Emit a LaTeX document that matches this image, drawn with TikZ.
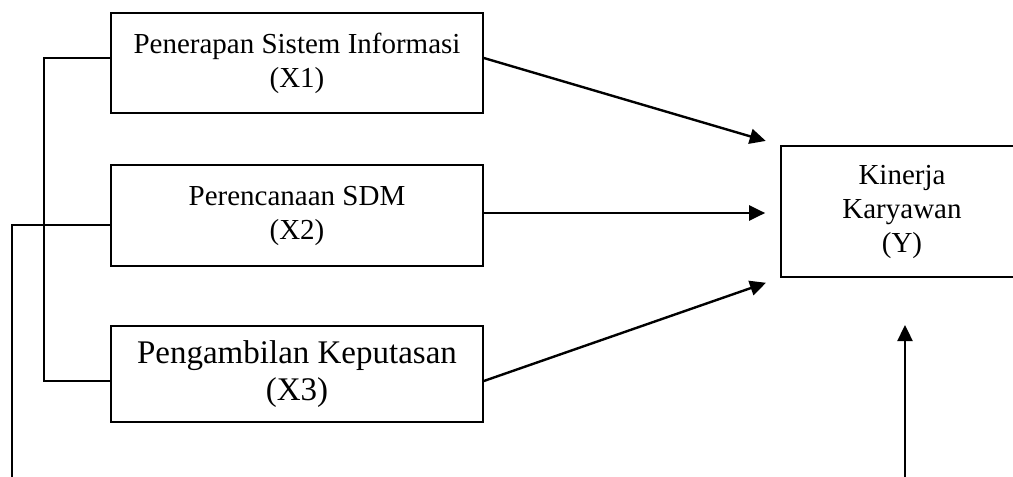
\documentclass[tikz,border=0pt]{standalone}
\usepackage{fontspec}
\setmainfont{Liberation Serif}
\usetikzlibrary{arrows.meta}

\tikzset{
  varbox/.style={draw, line width=1.7pt, minimum width=372pt, align=center, inner sep=0pt,
    font=\fontsize{29pt}{34pt}\selectfont},
  arr/.style={-{Triangle[length=16pt, width=15pt]}, line width=2.4pt}
}

\begin{document}
\begin{tikzpicture}[x=1pt, y=-1pt]
    \useasboundingbox (0, 0) rectangle (1013, 477);
    % X1
    \node [varbox, minimum height=100pt] (X1) at (297, 63) {Penerapan Sistem Informasi\\(X1)};
    % X2
    \node [varbox, minimum height=101pt] (X2) at (297, 215.5) {Perencanaan SDM\\(X2)};
    % X3
    \node [varbox, minimum height=96pt, font=\fontsize{33pt}{37pt}\selectfont] (X3) at (297, 374) {Pengambilan Keputasan\\(X3)};
    % Y
    \node [varbox, minimum width=242pt, minimum height=131pt] (Y) at (902, 211.5) {Kinerja\\Karyawan\\(Y)};
    % arrows to Y
    \draw [arr, shorten >=15pt] ([yshift=5pt]X1.east) -- (Y.north west);
    \draw [arr, shorten >=15pt] ([yshift=2.5pt]X2.east) -- ([yshift=-1.5pt]Y.west);
    \draw [arr, shorten >=15pt] ([yshift=-7pt]X3.east) -- (Y.south west);
    % lines on the left
    \coordinate (low) at (12, 480);
    \draw [line width=1.7pt] ([yshift=5pt]X1.west) -- ++(-66, 0) |- ([yshift=-7pt]X3.west);
    \draw [line width=1.7pt] ([yshift=-9.5pt]X2.west) -| (low);
    % arrow from below
    \coordinate (ubot) at (905, 480);
    \coordinate (utop) at (905, 325);
    \draw [arr] (ubot) -- (utop);
\end{tikzpicture}
\end{document}
